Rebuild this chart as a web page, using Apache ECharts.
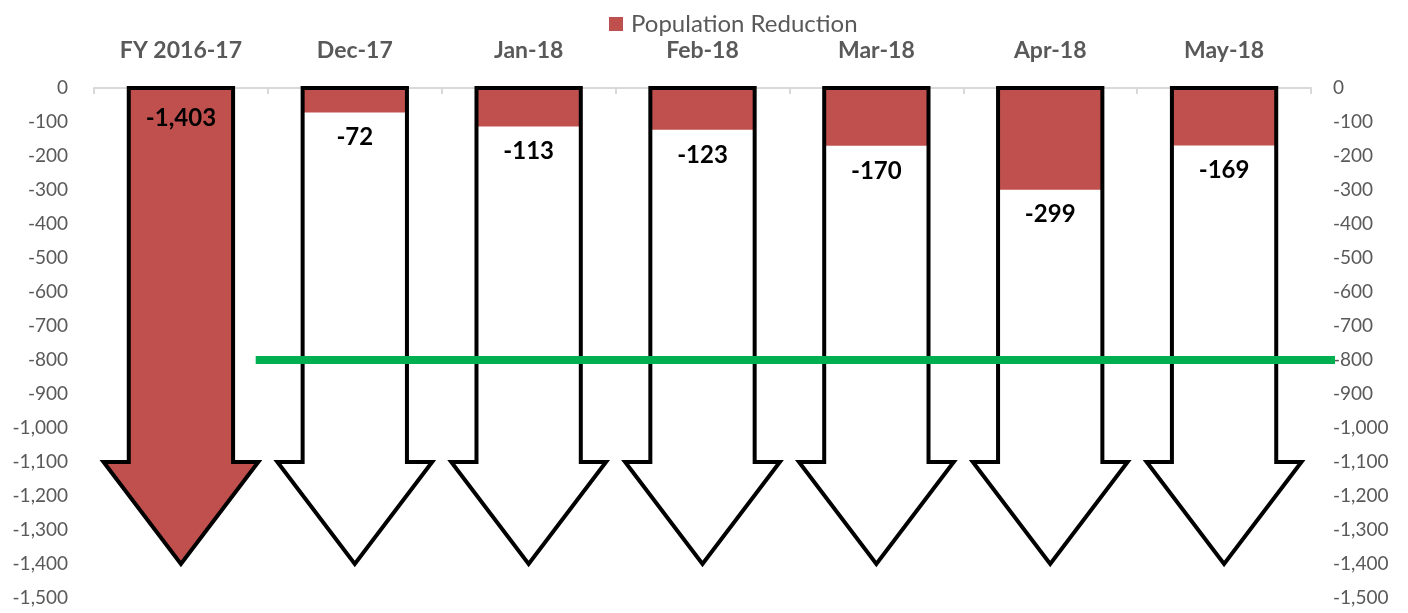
<!DOCTYPE html>
<html>
<head>
<meta charset="utf-8">
<script src="https://cdn.jsdelivr.net/npm/echarts@6/dist/echarts.min.js"></script>
<style>
html,body{margin:0;padding:0;background:#fff;}
#chart{width:1408px;height:613px;}
</style>
</head>
<body>
<div id="chart"></div>
<script>
const categories = ['FY 2016-17', 'Dec-17', 'Jan-18', 'Feb-18', 'Mar-18', 'Apr-18', 'May-18'];
const reductionValues = [-1403, -72, -113, -123, -170, -299, -169];
const targetLevel = -800;
const seriesName = 'Population Reduction';

const ARROW_SHOULDER = -1100;
const ARROW_TIP = -1400;
const RED = '#C0504D';

const chart = echarts.init(document.getElementById('chart'));

function fmt(v) { return v.toLocaleString('en-US'); }

function renderArrow(params, api) {
  const i = api.value(0), v = api.value(1);
  const band = api.size([1, 0])[0];
  const c0 = api.coord([i, 0]);
  const cx = c0[0], y0 = c0[1];
  const yS = api.coord([i, ARROW_SHOULDER])[1];
  const yT = api.coord([i, ARROW_TIP])[1];
  const yV = api.coord([i, v])[1];
  const sw = band * 0.30, hw = band * 0.445;
  const arrow = [[cx - sw, y0], [cx + sw, y0], [cx + sw, yS], [cx + hw, yS], [cx, yT], [cx - hw, yS], [cx - sw, yS]];
  let red;
  if (yV <= yS) {
    red = [[cx - sw, y0], [cx + sw, y0], [cx + sw, yV], [cx - sw, yV]];
  } else if (yV >= yT) {
    red = arrow;
  } else {
    const t = (yV - yS) / (yT - yS);
    const w = hw * (1 - t);
    red = [[cx - sw, y0], [cx + sw, y0], [cx + sw, yS], [cx + hw, yS], [cx + w, yV], [cx - w, yV], [cx - hw, yS], [cx - sw, yS]];
  }
  const labelY = (yV > yS) ? y0 + 30 : yV + 25;
  return {
    type: 'group',
    children: [
      { type: 'polygon', shape: { points: arrow }, style: { fill: '#fff', stroke: null } },
      { type: 'polygon', shape: { points: red }, style: { fill: RED, stroke: null } },
      { type: 'polygon', shape: { points: arrow }, style: { fill: null, stroke: '#000', lineWidth: 4, lineJoin: 'miter' } },
      { type: 'text', style: { x: cx, y: labelY, text: fmt(v), fill: '#000', font: 'bold 24px Lato', align: 'center', verticalAlign: 'middle' } }
    ]
  };
}

function renderTarget(params, api) {
  const band = api.size([1, 0])[0];
  const p = api.coord([0, api.value(1)]);
  const cs = params.coordSys;
  const x1 = p[0] + band * 0.43;
  const x2 = cs.x + cs.width + 24;
  return {
    type: 'line',
    shape: { x1: x1, y1: p[1], x2: x2, y2: p[1] },
    style: { stroke: '#00B050', lineWidth: 8 }
  };
}

const yAxisCommon = {
  type: 'value', min: -1500, max: 0, interval: 100,
  splitLine: { show: false }, axisLine: { show: false }, axisTick: { show: false },
  axisLabel: { color: '#595959', fontSize: 19, fontFamily: 'Lato', formatter: v => fmt(v) }
};

chart.setOption({
  animation: false,
  backgroundColor: '#fff',
  legend: {
    data: [{ name: seriesName, icon: 'rect', itemStyle: { color: RED } }],
    left: 609, top: 12, padding: 0,
    itemWidth: 14, itemHeight: 14,
    textStyle: { color: '#595959', fontSize: 24, fontFamily: 'Lato', padding: [0, 0, 0, 3] }
  },
  grid: { left: 94, right: 97, top: 88, bottom: 15, containLabel: false },
  xAxis: {
    type: 'category', data: categories, position: 'top',
    axisLine: { lineStyle: { color: '#D9D9D9', width: 2 } },
    axisTick: { show: true, inside: true, length: 6, lineStyle: { color: '#D9D9D9', width: 2 } },
    axisLabel: { color: '#595959', fontSize: 23, fontWeight: 'bold', fontFamily: 'Lato', margin: 26 }
  },
  yAxis: [
    Object.assign({}, yAxisCommon, { position: 'left', axisLabel: Object.assign({}, yAxisCommon.axisLabel, { margin: 26 }) }),
    Object.assign({}, yAxisCommon, { position: 'right', axisLabel: Object.assign({}, yAxisCommon.axisLabel, { margin: 22 }) })
  ],
  series: [
    {
      name: seriesName, type: 'custom', renderItem: renderArrow,
      itemStyle: { color: RED },
      data: reductionValues.map((v, i) => [i, v]),
      encode: { x: 0, y: 1 }, z: 2
    },
    {
      name: 'Target', type: 'custom', renderItem: renderTarget,
      data: [[0, targetLevel]],
      encode: { x: 0, y: 1 }, z: 5, silent: true
    }
  ]
});
</script>
</body>
</html>
